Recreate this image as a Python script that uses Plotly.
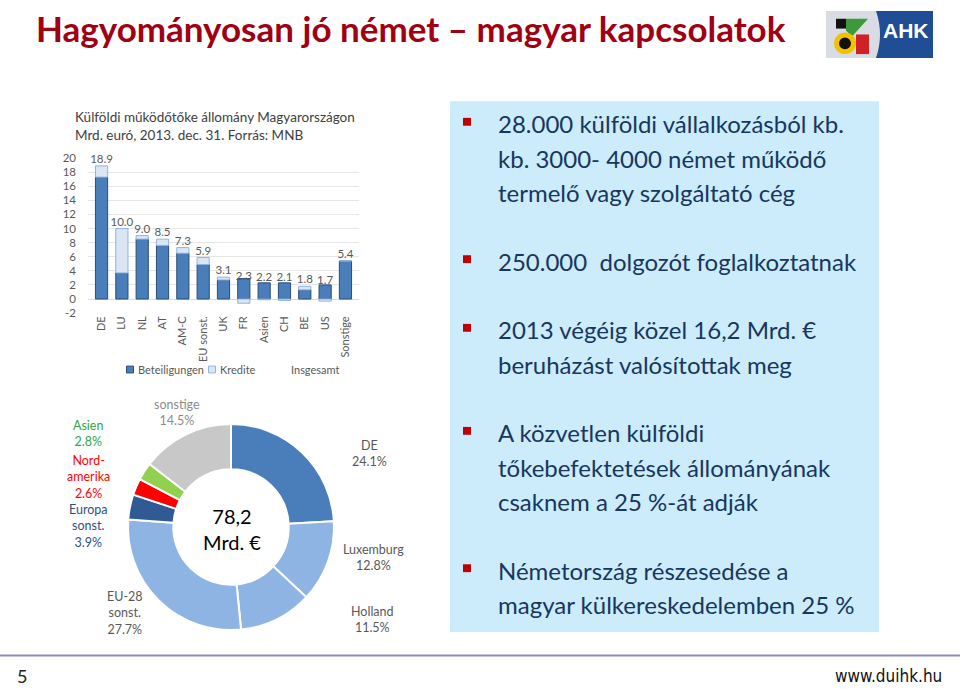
import plotly.graph_objects as go

W, H = 960, 689
def px(x): return x / W
def py(y): return 1 - y / H

# ---------------- data ----------------
bar_categories = ["DE", "LU", "NL", "AT", "AM-C", "EU sonst.", "UK", "FR", "Asien", "CH", "BE", "US", "Sonstige"]
beteiligungen = [17.3, 3.7, 8.5, 7.6, 6.5, 4.9, 2.7, 2.9, 2.3, 2.3, 1.3, 2.0, 5.4]
kredite = [1.6, 6.3, 0.5, 0.9, 0.8, 1.0, 0.4, -0.6, -0.1, -0.2, 0.5, -0.3, 0.0]
insgesamt = [18.9, 10.0, 9.0, 8.5, 7.3, 5.9, 3.1, 2.3, 2.2, 2.1, 1.8, 1.7, 5.4]
y_ticks = [-2, 0, 2, 4, 6, 8, 10, 12, 14, 16, 18, 20]
legend_names = ["Beteiligungen", "Kredite", "Insgesamt"]

pie_labels = ["DE", "Luxemburg", "Holland", "EU-28 sonst.", "Europa sonst.", "Nordamerika", "Asien", "sonstige"]
pie_values = [24.1, 12.8, 11.5, 27.7, 3.9, 2.6, 2.8, 14.5]
pie_label_text = ["DE", "Luxemburg", "Holland", "EU-28<br>sonst.", "Europa<br>sonst.", "Nord-<br>amerika", "Asien", "sonstige"]
pie_center_text = "78,2<br>Mrd. €"

bullets_top = [
    ["28.000 külföldi vállalkozásból kb.", "kb. 3000- 4000 német működő", "termelő vagy szolgáltató cég"],
    ["250.000  dolgozót foglalkoztatnak"],
    ["2013 végéig közel 16,2 Mrd. €", "beruházást valósítottak meg"],
]
bullets_bottom = [
    ["A közvetlen külföldi", "tőkebefektetések állományának", "csaknem a 25 %-át adják"],
    ["Németország részesedése a", "magyar külkereskedelemben 25 %"],
]

title_text = "Hagyományosan jó német – magyar kapcsolatok"
chart_title = ["Külföldi működőtőke állomány Magyarországon", "Mrd. euró, 2013. dec. 31. Forrás: MNB"]

FONT = "Lato, 'Open Sans', sans-serif"
GRAY = "#595959"
BET_COLOR, BET_LINE = "#4A7EBB", "#2C4D75"
KRED_COLOR, KRED_LINE = "#DCE6F2", "#8EB4E3"

fig = go.Figure()

# ---------------- bar chart ----------------
fig.add_trace(go.Bar(
    x=bar_categories, y=beteiligungen, name=legend_names[0], showlegend=False,
    marker=dict(color=BET_COLOR, line=dict(color=BET_LINE, width=1)),
    xaxis="x", yaxis="y",
))
fig.add_trace(go.Bar(
    x=bar_categories, y=kredite, name=legend_names[1], showlegend=False,
    marker=dict(color=KRED_COLOR, line=dict(color=KRED_LINE, width=1)),
    xaxis="x", yaxis="y",
))
fig.add_trace(go.Scatter(
    x=bar_categories, y=insgesamt, name=legend_names[2], showlegend=False,
    mode="text",
    text=[f"{v:.1f}" for v in insgesamt], textposition="top center",
    textfont=dict(size=11.5, color=GRAY, family=FONT),
    cliponaxis=False, xaxis="x", yaxis="y",
))

# ---------------- donut ----------------
pie_colors = ["#4A7EBB", "#8EB4E3", "#8EB4E3", "#8EB4E3", "#2F5A94", "#FF0000", "#92D050", "#C8C8C8"]
fig.add_trace(go.Pie(
    labels=pie_labels, values=pie_values, sort=False, direction="clockwise",
    rotation=0, hole=0.56, textinfo="none", showlegend=False,
    marker=dict(colors=pie_colors, line=dict(color="white", width=2)),
    domain=dict(x=[px(126), px(336)], y=[py(635), py(425)]),
))

annotations = []
shapes = []

def ann(x, y, text, size, color, family=FONT, xanchor="center", yanchor="middle", align="center"):
    annotations.append(dict(
        x=px(x), y=py(y), xref="paper", yref="paper", showarrow=False, text=text,
        xanchor=xanchor, yanchor=yanchor, align=align,
        font=dict(size=size, color=color, family=family),
    ))

# manual legend for the bar chart
legend_items = [(130, BET_COLOR, BET_LINE), (212, KRED_COLOR, KRED_LINE), (None, None, None)]
legend_text_x = [136, 218, 289]
for name, (sx, fc, lc), tx in zip(legend_names, legend_items, legend_text_x):
    if sx is not None:
        shapes.append(dict(type="rect", xref="paper", yref="paper",
                           x0=px(sx - 3.5), x1=px(sx + 3.5), y0=py(373), y1=py(366),
                           fillcolor=fc, line=dict(color=lc, width=1)))
    ann(tx, 369, name, 11, GRAY, xanchor="left")

# pie labels
pie_label_pos = [
    (369, 455, GRAY), (373, 561, GRAY), (372, 624, GRAY), (125, 618, GRAY),
    (88, 529, "#2F4F7F"), (88, 479, "#FF0000"), (88, 435, "#2EA84A"), (177, 413, "#8C8C8C"),
]
for lbl, val, (x, y, c) in zip(pie_label_text, pie_values, pie_label_pos):
    ann(x, y, f"{lbl}<br>{val:.1f}%", 12.5, c)
ann(232, 532, pie_center_text, 20, "black")

# slide title
ann(34, 21, f"<b>{title_text}</b>", 35, "#A00014", xanchor="left")
# chart title
for i, t in enumerate(chart_title):
    ann(73, 112 + 18 * i, t, 13.5, "#404040", xanchor="left")

# right text box
shapes.append(dict(type="rect", xref="paper", yref="paper", x0=px(450), x1=px(879), y0=py(637), y1=py(96),
                   fillcolor="#CCEBFB", line=dict(width=0), layer="below"))

def add_bullets(groups, starts):
    for lines, y0 in zip(groups, starts):
        shapes.append(dict(type="rect", xref="paper", yref="paper",
                           x0=px(463), x1=px(471), y0=py(y0 + 2), y1=py(y0 - 6),
                           fillcolor="#C00000", line=dict(width=0)))
        for k, line in enumerate(lines):
            ann(496, y0 + 35 * k, line, 24, "#17375E", xanchor="left")

add_bullets(bullets_top, [119, 259, 329])
add_bullets(bullets_bottom, [434, 574])

# footer
shapes.append(dict(type="line", xref="paper", yref="paper", x0=0, x1=1, y0=py(661), y1=py(661),
                   line=dict(color="#8C8CB0", width=2)))
ann(22, 682, "5", 18, "#222")
ann(944, 682, "www.duihk.hu", 17, "#111",
    family="'Liberation Sans Narrow', 'DejaVu Sans Condensed', sans-serif", xanchor="right")

# AHK logo (approximation)
shapes.append(dict(type="rect", xref="paper", yref="paper", x0=px(826), x1=px(880), y0=py(52), y1=py(4),
                   fillcolor="#D9DCE3", line=dict(width=0)))
shapes.append(dict(type="path", xref="paper", yref="paper",
                   path=f"M {px(876)},{py(4)} L {px(933)},{py(4)} L {px(933)},{py(52)} L {px(876)},{py(52)} "
                        f"Q {px(884)},{py(28)} {px(876)},{py(4)} Z",
                   fillcolor="#1F4E96", line=dict(width=0)))
shapes.append(dict(type="rect", xref="paper", yref="paper", x0=px(836), x1=px(846), y0=py(22), y1=py(12),
                   fillcolor="#111111", line=dict(width=0)))
shapes.append(dict(type="path", xref="paper", yref="paper",
                   path=f"M {px(846)},{py(12)} L {px(868)},{py(12)} L {px(852)},{py(30)} L {px(846)},{py(24)} Z",
                   fillcolor="#3C9A3C", line=dict(width=0)))
shapes.append(dict(type="circle", xref="paper", yref="paper", x0=px(834), x1=px(856), y0=py(48), y1=py(26),
                   fillcolor="#F2C200", line=dict(width=0)))
shapes.append(dict(type="circle", xref="paper", yref="paper", x0=px(839), x1=px(851), y0=py(43), y1=py(31),
                   fillcolor="#111111", line=dict(width=0)))
shapes.append(dict(type="rect", xref="paper", yref="paper", x0=px(856), x1=px(869), y0=py(48), y1=py(28),
                   fillcolor="#D0202A", line=dict(width=0)))
ann(906, 24, "<b>AHK</b>", 21, "white", family="'Liberation Sans', Arial, sans-serif")

fig.update_layout(
    width=W, height=H, margin=dict(l=0, r=0, t=0, b=0),
    paper_bgcolor="white", plot_bgcolor="white",
    barmode="relative", bargap=0.4, showlegend=False,
    font=dict(family=FONT, color=GRAY),
    xaxis=dict(domain=[px(88), px(359)], tickangle=-90, tickfont=dict(size=11, color=GRAY),
               showline=False, ticks="", showgrid=False, fixedrange=True),
    yaxis=dict(domain=[py(312), py(154)], range=[-2, 20], tickvals=y_ticks,
               ticktext=[str(v) for v in y_ticks], ticklabelstandoff=11,
               tickfont=dict(size=11.5, color=GRAY), gridcolor="#E6E6E6", gridwidth=1,
               zeroline=True, zerolinecolor="#D9D9D9", zerolinewidth=1, showline=False, ticks=""),
    annotations=annotations, shapes=shapes,
)

fig.write_html("out.html")
